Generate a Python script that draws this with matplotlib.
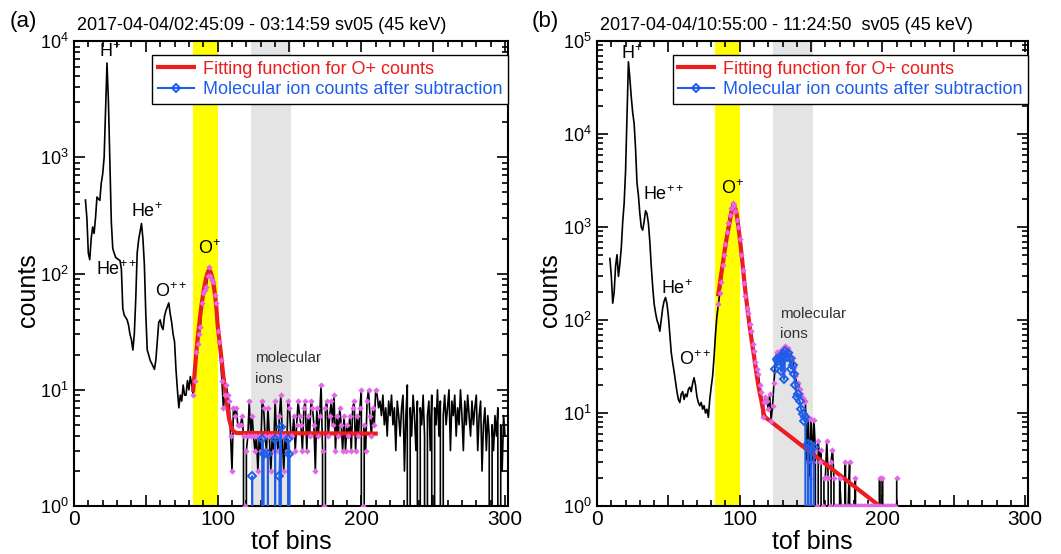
import numpy as np
import matplotlib
matplotlib.use("Agg")
import matplotlib.pyplot as plt
from matplotlib.ticker import MultipleLocator, FuncFormatter, LogLocator
from matplotlib.lines import Line2D

plt.rcParams["font.family"] = ["Liberation Sans", "DejaVu Sans"]
plt.rcParams["mathtext.fontset"] = "custom"
plt.rcParams["mathtext.rm"] = "Liberation Sans"
plt.rcParams["mathtext.it"] = "Liberation Sans:italic"

# ---- panel (a) data ----
left_bins = np.arange(8, 301)
left_counts = [
    430, 300, 150, 132, 200, 252, 222, 300, 456, 440,
    427, 600, 720, 1000, 2500, 6500, 3000, 900, 280, 165,
    150, 138, 135, 132, 130, 110, 50, 44, 42, 40,
    36, 30, 27, 22, 30, 60, 150, 195, 230, 270,
    200, 120, 45, 22, 20, 18, 17, 16, 15, 18,
    26, 38, 40, 35, 33, 43, 48, 52, 56, 45,
    38, 30, 26, 15, 10, 7, 9, 8, 11, 9,
    9, 12, 10, 13, 11, 9, 12, 21, 25, 30,
    35, 56, 68, 72, 76, 95, 114, 96, 89, 85,
    65, 56, 32, 26, 18, 12, 7, 9, 11, 9,
    8, 4, 2, 7, 6, 7, 5, 5, 5, 6,
    4, 0, 3, 4, 8, 4, 6, 4, 3, 4,
    2, 4, 3, 8, 7, 4, 3, 7, 4, 2,
    4, 3, 8, 4, 3, 6, 9, 4, 2, 4,
    3, 8, 7, 4, 4, 6, 3, 5, 8, 6,
    5, 3, 7, 8, 3, 6, 4, 8, 7, 5,
    2, 7, 4, 6, 11, 3, 0, 7, 8, 4,
    6, 8, 5, 9, 3, 6, 4, 7, 5, 3,
    6, 3, 5, 4, 6, 3, 7, 8, 3, 6,
    4, 7, 10, 0, 5, 3, 8, 10, 6, 4,
    7, 5, 10, 9, 7, 8, 6, 9, 5, 7,
    4, 8, 6, 9, 5, 7, 3, 8, 6, 4,
    7, 9, 2, 6, 11, 0, 7, 4, 9, 6,
    3, 8, 0, 7, 5, 9, 4, 0, 6, 8,
    3, 9, 0, 7, 5, 10, 4, 8, 0, 6,
    9, 5, 7, 10, 3, 8, 6, 9, 4, 7,
    5, 10, 6, 3, 8, 5, 9, 6, 4, 8,
    5, 7, 9, 3, 6, 8, 2, 5, 7, 3,
    6, 4, 0, 5, 3, 6, 4, 7, 0, 5,
    2, 6, 4,
]
left_fit_x = [83, 84, 85, 86, 87, 88, 89, 90, 91, 92, 93, 94, 95, 96, 97, 98,
              99, 100, 101, 102, 103, 104, 105, 106, 107, 108, 109, 110, 111,
              113, 210]
left_fit_y = [10, 14, 20, 27, 35, 45, 56, 68, 80, 92, 102, 107, 104, 95, 83,
              68, 53, 36, 28, 22, 17, 13, 10.5, 8.5, 6.8, 5.6, 5.0, 4.6, 4.4,
              4.25, 4.2]
left_mol_x = np.arange(123, 152)
left_mol_y = [0, 1.8, 0, 0, 0, 0, 0, 0, 3.8, 2.8, 0, 0, 2.8, 0, 0, 0, 0,
              3.8, 0, 0, 1.8, 4.8, 0, 0, 0, 0, 3.8, 2.8, 0]
left_fit_range = (83, 210)

# ---- panel (b) data ----
right_bins = np.arange(9, 211)
right_counts = [
    460, 300, 152, 200, 380, 505, 295, 400, 600, 1140,
    1800, 4000, 15000, 60000, 40000, 25000, 17000, 13000, 7000, 3000,
    2200, 1400, 1000, 930, 1150, 1500, 1400, 1100, 700, 380,
    230, 150, 120, 100, 90, 76, 100, 134, 160, 175,
    150, 110, 70, 45, 35, 28, 22, 17, 14, 13,
    16, 17, 14, 16, 15, 18, 19, 17, 21, 24,
    20, 15, 13, 12, 13, 11, 12, 10, 11, 9,
    14, 19, 25, 40, 70, 110, 148, 195, 260, 390,
    505, 665, 890, 1100, 1350, 1600, 1820, 1750, 1500, 1200,
    1000, 750, 500, 350, 250, 180, 135, 119, 90, 76,
    55, 46, 35, 30, 26, 20, 17, 9, 13, 15,
    13.5, 11, 16, 8.3, 12, 21, 37.5, 45, 43, 47,
    35, 50, 30, 53, 46, 50, 45, 36, 39, 31,
    25, 20, 21, 18, 16, 14.5, 13, 13.5, 3, 9,
    2, 8.7, 3, 8.5, 4, 0, 5, 3, 4, 0,
    2, 2, 5, 2, 0, 3, 4, 2, 0, 1,
    0, 2, 1, 0, 0, 3, 0, 1, 3, 0,
    1, 0, 2, 0, 0, 0, 0, 0, 1, 0,
    0, 0, 0, 0, 0, 0, 0, 0, 0, 2,
    0, 2, 0, 1, 0, 0, 0, 0, 0, 0,
    0, 2,
]
right_fit_x = [85, 86, 87, 88, 89, 90, 91, 92, 93, 94, 95, 96, 97, 98, 99,
               100, 101, 102, 103, 104, 105, 106, 107, 108, 109, 110, 111,
               112, 113, 114, 115, 116, 117, 118, 198, 205]
right_fit_y = [190, 240, 310, 390, 500, 630, 790, 950, 1150, 1380, 1580, 1650,
               1560, 1320, 1020, 770, 560, 400, 280, 200, 150, 112, 85, 66, 52,
               41, 32, 25, 20, 16.5, 14, 11.5, 9.6, 9.0, 1.0, 0.8]
right_mol_x = np.arange(125, 153)
right_mol_y = [30, 38, 36, 40, 28, 43, 23, 46, 40, 44, 39, 30, 33, 26, 20, 15,
               16, 13.5, 11, 9.8, 8.3, 9, 0, 4.7, 0, 4.5, 0, 4.3]
right_fit_range = (85, 210)

yellow_band = (83, 100)
gray_band = (123, 151)

RED = "#ee1c1c"
BLUE = "#1f5ee6"
MAGENTA = "#e466e6"

fig = plt.figure(figsize=(10.61, 5.54), dpi=100)


def draw_panel(ax, bins, counts, fit_x, fit_y, mol_x, mol_y, frange, ymax):
    counts = np.asarray(counts, dtype=float)
    ax.axvspan(*yellow_band, color="#ffff00", lw=0, zorder=0)
    ax.axvspan(*gray_band, color="#e4e4e4", lw=0, zorder=0)
    ax.plot(bins, counts, color="black", lw=1.2, zorder=2)
    ax.plot(fit_x, fit_y, color=RED, lw=3, zorder=3)
    sel = (bins >= frange[0]) & (bins <= frange[1])
    ax.plot(bins[sel], np.where(counts[sel] > 0, counts[sel], 1.0), ls="none",
            marker="D", ms=3.2, color=MAGENTA, mew=0, zorder=4)
    ax.plot(mol_x, mol_y, color=BLUE, lw=1.5, marker="D", ms=4.2, mfc="none",
            mec=BLUE, mew=1.4, zorder=5)
    ax.set_yscale("log", nonpositive="clip")
    ax.set_xlim(0, 302)
    ax.set_ylim(1, ymax)
    ax.xaxis.set_major_locator(MultipleLocator(50))
    ax.xaxis.set_minor_locator(MultipleLocator(10))
    ax.xaxis.set_major_formatter(
        FuncFormatter(lambda v, p: f"{int(v)}" if v % 100 == 0 else ""))
    ax.yaxis.set_major_locator(LogLocator(base=10, numticks=10))
    ax.yaxis.set_minor_locator(LogLocator(base=10, subs=np.arange(2, 10), numticks=20))
    ax.tick_params(which="both", direction="in", top=True, right=True,
                   labelsize=13, width=1.2)
    ax.tick_params(which="major", length=8, pad=4)
    ax.tick_params(which="minor", length=4)
    ax.tick_params(axis="x", labelsize=15, pad=3)
    for s in ax.spines.values():
        s.set_linewidth(1.5)
    handles = [Line2D([], [], color=RED, lw=3),
               Line2D([], [], color=BLUE, lw=1.5, marker="D", ms=4.2, mfc="none",
                      mec=BLUE, mew=1.4)]
    leg = ax.legend(handles, ["Fitting function for O+ counts",
                              "Molecular ion counts after subtraction"],
                    loc="upper right", bbox_to_anchor=(1.0, 0.97),
                    borderaxespad=0, fontsize=13, fancybox=False,
                    framealpha=1, edgecolor="black", handlelength=2.0,
                    handletextpad=0.5, borderpad=0.3, labelspacing=0.2)
    leg.get_frame().set_linewidth(1.0)
    for t, c in zip(leg.get_texts(), [RED, BLUE]):
        t.set_color(c)


axL = fig.add_axes([0.0697, 0.0866, 0.409, 0.839])
draw_panel(axL, left_bins, left_counts, left_fit_x, left_fit_y,
           left_mol_x, left_mol_y, left_fit_range, 1e4)
axR = fig.add_axes([0.5627, 0.0866, 0.4062, 0.839])
draw_panel(axR, right_bins, right_counts, right_fit_x, right_fit_y,
           right_mol_x, right_mol_y, right_fit_range, 1e5)

lab = dict(fontsize=13, ha="center", va="center", zorder=6)
axL.text(25, 8200, r"H$^{+}$", **lab)
axL.text(51, 340, r"He$^{+}$", **lab)
axL.text(30, 108, r"He$^{++}$", **lab)
axL.text(68, 70, r"O$^{++}$", **lab)
axL.text(94, 163, r"O$^{+}$", **lab)
axL.text(126, 18.8, "molecular", fontsize=11, color="#333333", ha="left", va="center")
axL.text(126, 12.4, "ions", fontsize=11, color="#333333", ha="left", va="center")

axR.text(24.5, 74000, r"H$^{+}$", **lab)
axR.text(47, 2250, r"He$^{++}$", **lab)
axR.text(56, 218, r"He$^{+}$", **lab)
axR.text(69, 38, r"O$^{++}$", **lab)
axR.text(95, 2570, r"O$^{+}$", **lab)
axR.text(128, 115, "molecular", fontsize=11, color="#333333", ha="left", va="center")
axR.text(128, 71, "ions", fontsize=11, color="#333333", ha="left", va="center")

fig.text(77 / 1061, 1 - 25 / 554, "2017-04-04/02:45:09 - 03:14:59 sv05 (45 keV)",
         fontsize=13, ha="left", va="center")
fig.text(600 / 1061, 1 - 25 / 554, "2017-04-04/10:55:00 - 11:24:50  sv05 (45 keV)",
         fontsize=13, ha="left", va="center")
fig.text(10 / 1061, 1 - 22 / 554, "(a)", fontsize=16, ha="left", va="center")
fig.text(532 / 1061, 1 - 22 / 554, "(b)", fontsize=16, ha="left", va="center")

fig.text(28 / 1061, 1 - 290 / 554, "counts", fontsize=18, rotation=90,
         ha="center", va="center")
fig.text(550 / 1061, 1 - 290 / 554, "counts", fontsize=18, rotation=90,
         ha="center", va="center")
fig.text(291 / 1061, 1 - 542 / 554, "tof bins", fontsize=18, ha="center", va="center")
fig.text(812 / 1061, 1 - 542 / 554, "tof bins", fontsize=18, ha="center", va="center")

fig.savefig("out.png", dpi=100)
